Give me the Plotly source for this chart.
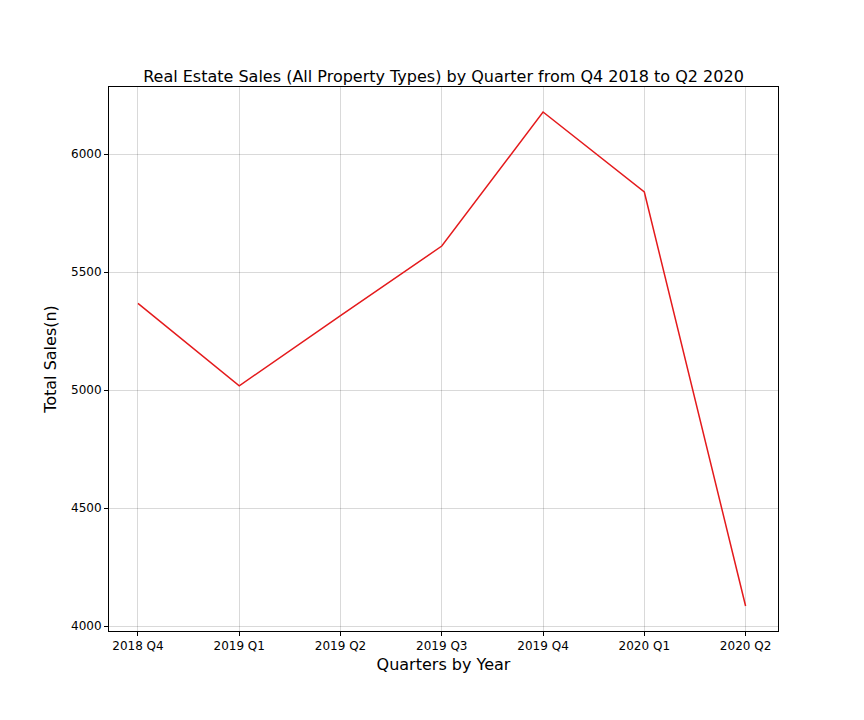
import plotly.graph_objects as go

quarters = ["2018 Q4", "2019 Q1", "2019 Q2", "2019 Q3", "2019 Q4", "2020 Q1", "2020 Q2"]
sales = [5367, 5018, 5315, 5610, 6178, 5839, 4085]

fig = go.Figure(go.Scatter(x=list(range(len(quarters))), y=sales, mode="lines",
                           line=dict(color="#e41a1c", width=1.5)))
ax = dict(showline=True, linecolor="black", linewidth=1, mirror=True, ticks="outside",
          ticklen=4, tickcolor="black", showgrid=True, gridcolor="rgba(0,0,0,0.15)",
          zeroline=False, tickfont=dict(size=12, color="black"))
fig.update_layout(
    width=864, height=720, plot_bgcolor="white", paper_bgcolor="white",
    margin=dict(l=101, r=94, t=79, b=97),
    font=dict(family="DejaVu Sans", color="black"),
    title=dict(text="Real Estate Sales (All Property Types) by Quarter from Q4 2018 to Q2 2020",
               x=(101 + 669/2)/864, xanchor="center", y=1 - 68/720, yanchor="middle", font=dict(size=16)),
    xaxis=dict(ax, range=[-0.286, 6.32], tickvals=list(range(len(quarters))), ticktext=quarters,
               title=dict(text="Quarters by Year", font=dict(size=16), standoff=6)),
    yaxis=dict(ax, range=[3979, 6284], tickvals=[4000, 4500, 5000, 5500, 6000],
               title=dict(text="Total Sales(n)", font=dict(size=16), standoff=10)),
    showlegend=False,
)
fig.write_html("out.html")
